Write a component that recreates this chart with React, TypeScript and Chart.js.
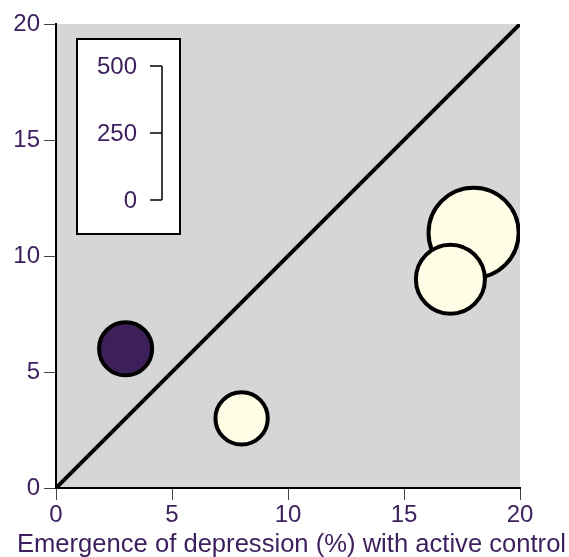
import React, { useEffect, useRef } from 'react';
import { Chart, registerables } from 'chart.js';

Chart.register(...registerables);

const xValues = [3, 8, 18, 17];
const yValues = [6, 3, 11, 9];
const sampleSizes = [160, 155, 460, 270];
const pointColors = ['#3d1f5a', '#fffde6', '#fffde6', '#fffde6'];
const axisTicks = [0, 5, 10, 15, 20];
const legendTicks = [0, 250, 500];
const diagonal = [0, 20];
const xTitle = 'Emergence of depression (%) with active control';

const TEXT = '#3c1f5c';
const FONT = '"Liberation Sans", Arial, Helvetica, sans-serif';
const FS = 24;
const radiusOf = (n: number) => 2.1 * Math.sqrt(n);

export default function App() {
  const ref = useRef<HTMLCanvasElement>(null);

  useEffect(() => {
    if (!ref.current) return;

    const bgPlugin = {
      id: 'bgPlugin',
      beforeDraw(chart: any) {
        const { ctx, chartArea: a } = chart;
        ctx.save();
        ctx.fillStyle = '#d6d6d6';
        ctx.fillRect(a.left, a.top, a.right - a.left, a.bottom - a.top);
        ctx.restore();
      },
    };

    const insetPlugin = {
      id: 'insetPlugin',
      afterDatasetsDraw(chart: any) {
        const { ctx, chartArea: a } = chart;
        const bx = a.left + 21;
        const by = a.top + 15;
        const bw = 103;
        const bh = 195;
        ctx.save();
        ctx.fillStyle = '#ffffff';
        ctx.fillRect(bx, by, bw, bh);
        ctx.strokeStyle = '#000';
        ctx.lineWidth = 2;
        ctx.strokeRect(bx, by, bw, bh);
        const lineX = bx + 85;
        const yTop = by + 27;
        const yBot = by + 161;
        const maxV = legendTicks[legendTicks.length - 1];
        ctx.lineWidth = 1.5;
        ctx.beginPath();
        ctx.moveTo(lineX, yTop);
        ctx.lineTo(lineX, yBot);
        ctx.stroke();
        ctx.font = `${FS}px ${FONT}`;
        ctx.fillStyle = TEXT;
        ctx.textAlign = 'right';
        ctx.textBaseline = 'middle';
        legendTicks.forEach((v) => {
          const y = yBot - (v / maxV) * (yBot - yTop);
          ctx.beginPath();
          ctx.moveTo(lineX - 12, y);
          ctx.lineTo(lineX, y);
          ctx.stroke();
          ctx.fillText(String(v), lineX - 25, y + 1);
        });
        ctx.restore();
      },
      afterDraw(chart: any) {
        const { ctx } = chart;
        ctx.save();
        ctx.font = `25.6px ${FONT}`;
        ctx.fillStyle = TEXT;
        ctx.textAlign = 'center';
        ctx.textBaseline = 'alphabetic';
        ctx.fillText(xTitle, 291.5, 552);
        ctx.restore();
      },
    };

    const tickOpts = {
      color: TEXT,
      font: { family: FONT, size: FS },
    };

    const chart = new Chart(ref.current, {
      type: 'bubble',
      data: {
        datasets: [
          {
            type: 'bubble',
            data: xValues.map((x, i) => ({ x, y: yValues[i], r: radiusOf(sampleSizes[i]) })),
            backgroundColor: pointColors,
            borderColor: '#000',
            borderWidth: 4,
            order: 0,
          } as any,
          {
            type: 'line',
            data: diagonal.map((v) => ({ x: v, y: v })),
            borderColor: '#000',
            borderWidth: 4,
            pointRadius: 0,
            fill: false,
            order: 1,
          } as any,
        ],
      },
      options: {
        animation: false,
        responsive: true,
        maintainAspectRatio: false,
        layout: { autoPadding: false, padding: { top: 24, right: 49, left: 0, bottom: 0 } },
        plugins: { legend: { display: false }, tooltip: { enabled: false } },
        scales: {
          x: {
            type: 'linear',
            min: 0,
            max: 20,
            afterBuildTicks: (s: any) => {
              s.ticks = axisTicks.map((v) => ({ value: v }));
            },
            afterFit: (s: any) => {
              s.height = 69;
              s.paddingLeft = 0;
              s.paddingRight = 0;
            },
            ticks: { ...tickOpts, padding: 1, maxRotation: 0 },
            grid: { drawOnChartArea: false, tickLength: 12, color: '#444', lineWidth: 1 },
            border: { color: '#000', width: 2 },
          },
          y: {
            type: 'linear',
            min: 0,
            max: 20,
            afterBuildTicks: (s: any) => {
              s.ticks = axisTicks.map((v) => ({ value: v }));
            },
            afterFit: (s: any) => {
              s.width = 56;
              s.paddingTop = 0;
              s.paddingBottom = 0;
            },
            ticks: { ...tickOpts, padding: 4 },
            grid: { drawOnChartArea: false, tickLength: 12, color: '#444', lineWidth: 1 },
            border: { color: '#000', width: 2 },
          },
        },
      },
      plugins: [bgPlugin, insetPlugin],
    } as any);

    return () => chart.destroy();
  }, []);

  return (
    <div style={{ position: 'fixed', left: 0, top: 0, width: 569, height: 557, background: '#fff' }}>
      <canvas ref={ref} />
    </div>
  );
}
